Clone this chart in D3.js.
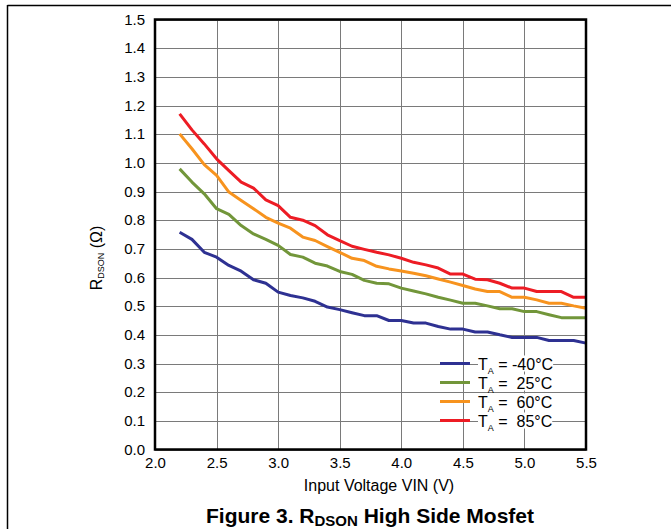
<!DOCTYPE html>
<html><head><meta charset="utf-8">
<script src="https://cdn.jsdelivr.net/npm/d3@7"></script>
<style>
html,body{margin:0;padding:0;background:#fff;}
svg{display:block;font-family:"Liberation Sans",Arial,sans-serif;}
</style></head>
<body><svg id="c" width="671" height="529"></svg>
<script>
const vin = [2.2,2.3,2.4,2.5,2.6,2.7,2.8,2.9,3.0,3.1,3.2,3.3,3.4,3.5,3.6,3.7,3.8,3.9,
             4.0,4.1,4.2,4.3,4.4,4.5,4.6,4.7,4.8,4.9,5.0,5.1,5.2,5.3,5.4,5.5];
const rM40 = [0.758,0.733,0.688,0.671,0.642,0.622,0.592,0.580,0.549,0.537,0.529,0.517,0.497,0.488,0.477,0.467,0.467,0.450,
              0.450,0.441,0.441,0.429,0.420,0.420,0.410,0.410,0.400,0.391,0.391,0.391,0.380,0.380,0.380,0.371];
const r25 = [0.979,0.933,0.892,0.840,0.820,0.781,0.752,0.733,0.712,0.680,0.671,0.650,0.640,0.621,0.611,0.590,0.580,0.578,
             0.563,0.553,0.543,0.531,0.521,0.510,0.510,0.501,0.491,0.491,0.481,0.481,0.470,0.460,0.460,0.460];
const r60 = [1.101,1.049,0.994,0.956,0.898,0.869,0.840,0.810,0.790,0.772,0.741,0.729,0.708,0.688,0.667,0.659,0.639,0.630,
             0.623,0.615,0.606,0.595,0.584,0.572,0.560,0.551,0.551,0.531,0.531,0.522,0.510,0.510,0.501,0.493];
const r85 = [1.171,1.115,1.066,1.014,0.973,0.933,0.912,0.871,0.851,0.810,0.800,0.781,0.749,0.729,0.709,0.698,0.688,0.679,
             0.667,0.653,0.644,0.633,0.612,0.612,0.594,0.592,0.580,0.563,0.563,0.551,0.551,0.551,0.531,0.531];
const seriesNames = ["-40°C", " 25°C", " 60°C", " 85°C"];
const seriesValues = [rM40, r25, r60, r85];
const seriesColors = ["#2E3192", "#72963A", "#F7931E", "#ED1C24"];
const xTicks = [2.0,2.5,3.0,3.5,4.0,4.5,5.0,5.5];
const yTicks = [0.0,0.1,0.2,0.3,0.4,0.5,0.6,0.7,0.8,0.9,1.0,1.1,1.2,1.3,1.4,1.5];

const svg = d3.select("#c");
// outer frame (top and left rules)
svg.append("line").attr("x1",7.5).attr("x2",671).attr("y1",5.5).attr("y2",5.5).attr("stroke","#000").attr("stroke-width",1.5);
svg.append("line").attr("x1",7.5).attr("x2",7.5).attr("y1",5).attr("y2",529).attr("stroke","#000").attr("stroke-width",1.5);

const L=155, R=586, T=19.5, B=449.5;
const x = d3.scaleLinear().domain([2,5.5]).range([L,R]);
const y = d3.scaleLinear().domain([0,1.5]).range([B,T]);

const g = svg.append("g");
// grid
g.selectAll(".gx").data(xTicks).enter().append("line")
  .attr("x1",d=>Math.round(x(d))+0.5).attr("x2",d=>Math.round(x(d))+0.5).attr("y1",T).attr("y2",B)
  .attr("stroke","#7a7a7a").attr("stroke-width",1);
g.selectAll(".gy").data(yTicks).enter().append("line")
  .attr("y1",d=>Math.round(y(d))+0.5).attr("y2",d=>Math.round(y(d))+0.5).attr("x1",L).attr("x2",R)
  .attr("stroke","#7a7a7a").attr("stroke-width",1);

// axes labels via d3 axes
const xAxis = d3.axisBottom(x).tickValues(xTicks).tickFormat(d3.format(".1f")).tickSize(0).tickPadding(8);
const gx = svg.append("g").attr("transform",`translate(0,${B})`).call(xAxis);
gx.select(".domain").remove();
gx.selectAll("text").attr("font-size",15).attr("fill","#000").attr("font-family","Liberation Sans, Arial, sans-serif");
const yAxis = d3.axisLeft(y).tickValues(yTicks).tickFormat(d3.format(".1f")).tickSize(0).tickPadding(10);
const gy = svg.append("g").attr("transform",`translate(${L},0)`).call(yAxis);
gy.select(".domain").remove();
gy.selectAll("text").attr("font-size",15).attr("fill","#000").attr("font-family","Liberation Sans, Arial, sans-serif");

// lines
const line = d3.line().x((d,i)=>x(vin[i])).y(d=>y(d));
seriesValues.forEach((vals,k)=>{
  svg.append("path").datum(vals).attr("d",line).attr("fill","none")
    .attr("stroke",seriesColors[k]).attr("stroke-width",3).attr("stroke-linejoin","round");
});

// plot border
svg.append("rect").attr("x",L).attr("y",T).attr("width",R-L).attr("height",B-T)
  .attr("fill","none").attr("stroke","#000").attr("stroke-width",2.5);

// legend
seriesNames.forEach((nm,k)=>{
  const yy = 363.5 + k*19;
  svg.append("line").attr("x1",440).attr("x2",470).attr("y1",yy).attr("y2",yy)
    .attr("stroke",seriesColors[k]).attr("stroke-width",3);
  const t = svg.append("text").attr("x",478).attr("y",yy+6).attr("font-size",16).attr("fill","#000");
  t.append("tspan").text("T");
  t.append("tspan").attr("font-size",9).attr("dy",4).text("A");
  t.append("tspan").attr("dy",-4).attr("xml:space","preserve").text(" = " + nm);
  const bb = t.node().getBBox();
  svg.insert("rect", () => t.node()).attr("x",bb.x).attr("y",yy-8).attr("width",bb.width).attr("height",16).attr("fill","#fff");
});

// axis titles
svg.append("text").attr("x",379).attr("y",491).attr("text-anchor","middle").attr("font-size",16).text("Input Voltage VIN (V)");
const yt = svg.append("text").attr("transform","translate(102,258) rotate(-90)").attr("text-anchor","middle").attr("font-size",16);
yt.append("tspan").text("R");
yt.append("tspan").attr("font-size",9).attr("dy",2).text("DSON");
yt.append("tspan").attr("dy",-2).text(" (Ω)");

const ft = svg.append("text").attr("x",370).attr("y",523).attr("text-anchor","middle").attr("font-size",21).attr("font-weight","bold");
ft.append("tspan").text("Figure 3. R");
ft.append("tspan").attr("font-size",15).attr("dy",3).text("DSON");
ft.append("tspan").attr("dy",-3).text(" High Side Mosfet");
</script></body></html>
